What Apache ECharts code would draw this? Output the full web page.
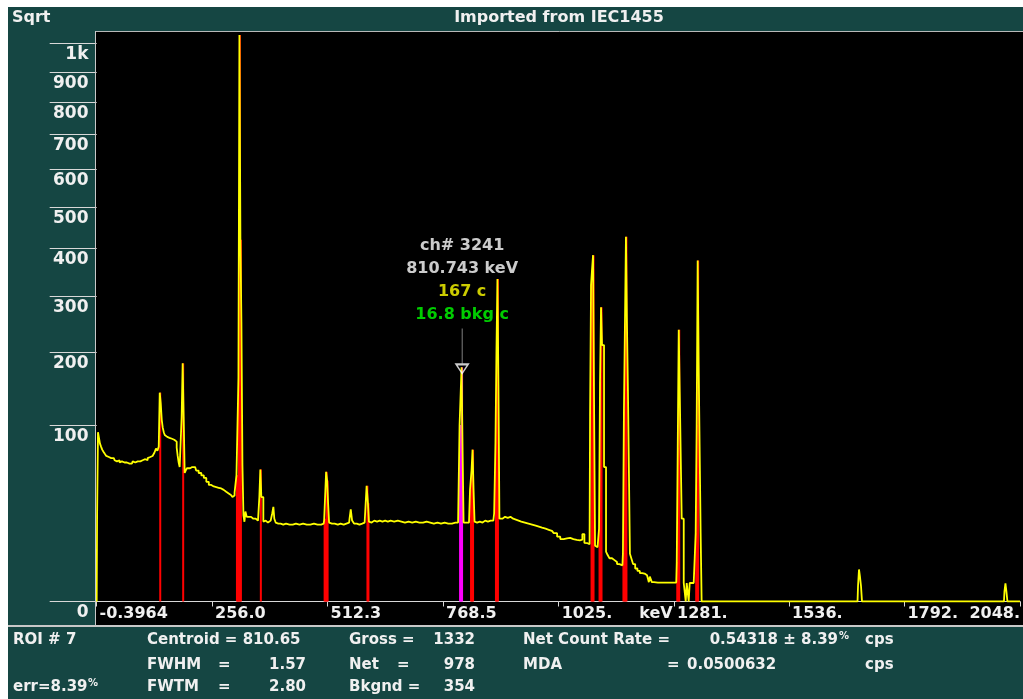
<!DOCTYPE html>
<html><head><meta charset="utf-8">
<script src="https://cdn.jsdelivr.net/npm/echarts@6/dist/echarts.min.js"></script>
<style>html,body{margin:0;padding:0;background:#fff;}#c{position:absolute;left:8px;top:7px;width:1015px;height:692px;}</style>
</head><body><div id="c"></div><script>
// ---- data (keV, counts) ----
const spectrumLow = [[0,0],[1.8,23],[4.0,92],[6.2,86],[8.4,80],[11.0,77],[13.5,74],[16.5,72],[19.5,70],[23.0,68],[27.0,67],[30.5,66],[34.0,65],[38.0,66],[41.6,64],[45.0,63],[49.0,64],[52.6,62],[56.0,63],[60.0,62],[63.7,61],[67.0,62],[71.0,61],[74.7,62],[78.0,61],[82.0,63],[85.8,62],[89.0,63],[93.0,62],[96.8,63],[100.0,64],[104.0,63],[107.9,65],[111.0,64],[115.0,66],[118.9,67],[122.0,68],[126.0,69],[130.0,71],[133.0,75],[136.6,73],[138.8,77],[141.0,140],[143.2,126],[145.5,106],[147.7,97],[150.0,92],[152.1,89],[156.5,87],[160.0,87],[163.1,86],[167.0,85],[170.0,84],[174.2,84],[176.4,82],[178.6,76],[180.8,68],[183.0,62],[185.2,58],[187.4,58],[189.6,109],[191.9,182],[194.1,109],[196.3,53],[198.5,55],[202.0,57],[207.3,57],[212.0,58],[218.4,58],[223.0,55],[229.4,53],[235.0,51],[240.5,49],[246.0,46],[251.5,43.6],[257.0,42.5],[262.6,42],[268.0,41.5],[273.6,41],[279.0,40],[284.7,38.7],[290.0,37.5],[295.7,36.4],[300.0,35.5],[302.4,35],[305.0,36],[306.8,38],[309.0,39],[311.2,51],[313.4,51],[315.6,160],[317.8,1030],[320.0,420],[322.2,250],[324.5,60],[326.7,24],[328.9,20.4],[331.0,26],[335.0,23],[340.0,23],[345.0,22],[350.0,22],[356.0,21],[359.8,21],[362.0,35],[364.2,56],[366.4,35],[368.6,35],[370.9,20.5],[375.0,21],[380.0,20],[384.0,21],[388.0,22],[391.0,25],[393.0,28.7],[395.2,22],[399.0,20],[403.0,19.5],[408.0,19.5],[414.0,19],[420.0,19.5],[428.0,19],[435.0,19],[442.0,19.5],[450.0,19],[458.0,19.5],[466.0,19],[474.0,19],[482.0,19.5],[490.0,19],[498.0,19],[503.5,19.5],[505.7,21],[507.9,22],[510.1,54],[512.3,47],[514.5,31],[516.7,20],[522.0,19.5],[528.0,19.5],[535.0,19],[541.0,19.5],[548.0,19],[554.0,19.5],[560.0,20],[562.0,22],[565.3,27.3],[568.0,21],[574.0,19.5],[580.0,19],[586.0,19.5],[592.0,20],[597.0,20],[600.7,43],[602.9,31],[605.1,20.5],[610.0,20],[616.0,21],[622.0,20.5],[628.0,21],[634.0,20.5],[640.0,21]];
const spectrumMid = [[646,20.5],[652,21],[660,20.5],[668,21],[676,20.5],[684,20],[692,20.5],[700,20],[708,20.5],[716,20],[724,20],[732,20.5],[740,20],[748,19.5],[756,20],[764,19.5],[772,20],[780,19.5],[788,19.5],[796,20],[801.8,20],[804.0,20],[806.2,100],[808.4,100],[810.6,176],[812.9,73],[815.1,20],[820,20],[826,20],[830.5,40],[832.7,55],[835.0,74],[837.2,40],[839.4,20.5],[844,20],[850,20.5],[856,20],[862,21],[868,20.5],[874,21],[880,21],[883.6,25],[885.8,80],[888.0,200],[890.2,334],[892.4,150],[894.6,22],[900,22],[906,23],[912,22.5],[918,23],[924,22],[930,21.5],[936,21],[942,20.5],[950,20],[958,19.5],[966,19],[974,18.5],[981,18],[988,17.5],[996,17],[1003,16.5],[1010,16],[1018,15],[1025,13.5],[1032,12.5],[1040,12.8],[1047,13],[1054,12.5],[1061,12.2],[1069,12],[1075,12.3],[1080,14.6],[1084,11],[1087,10.9],[1091,10.5],[1093.5,10.5]];
const spectrumHigh = [[1095.7,111],[1097.9,322],[1100.1,354],[1102.3,385],[1104.5,130],[1106.8,10],[1109.0,9.5],[1113.4,9],[1115.6,17],[1117.8,155],[1120.0,278],[1122.2,211],[1124.4,211],[1126.7,58],[1128.9,58],[1131.1,8],[1135.5,7],[1139.9,6],[1146.6,5.5],[1151.0,5],[1157.6,4.5],[1162.0,4.3],[1166.4,4.2],[1168.6,7.5],[1170.9,118],[1173.1,248],[1175.3,427],[1177.5,248],[1179.7,143],[1181.9,143],[1184.1,7.3],[1188,6],[1192,4.5],[1197.4,3.5],[1202,3],[1208,2.6],[1212.9,2.5],[1218,2.2],[1223.9,2],[1226.1,1.2],[1228.3,2],[1230.5,2],[1232.7,1.2],[1240,1.15],[1250,1.15],[1260,1.15],[1270,1.15],[1280,1.15],[1285.8,1.15],[1288.0,5],[1290.2,76],[1292.4,237],[1294.6,141],[1296.8,141],[1299.0,22],[1301.3,22],[1303.5,1.1],[1305.7,1.1],[1307.9,0],[1310.1,1.1],[1312.3,1.1],[1314.5,0],[1316.7,1.1],[1318.9,1.1],[1321.2,1.1],[1323.4,1.1],[1325.6,1.1],[1327.8,6],[1330.0,15],[1332.2,100],[1334.4,373],[1336.6,180],[1338.8,180],[1341.0,15],[1343.2,0],[1688,0],[1690.1,0.77],[1692.3,3.3],[1694.5,1.97],[1696.8,0.77],[1699,0],[2012.8,0],[2015.0,0.31],[2017.2,1.07],[2019.4,0.31],[2021.6,0],[2048.4,0]];
// ROI ranges (keV)
const roiRanges = [[139.9,142],[190,193],[310,321],[363,365.5],[505,513],[599.5,603.5],[805,811.5],[830,836],[885,891],[1097,1103],[1115,1121],[1168,1176],[1287,1293],[1329,1335]];
const selectedRoi = 6; // ROI # 7
// axis ticks
const xTickValues = [-0.3964,256.0,512.3,768.5,1025,1281,1536,1792,2048.4];
const xTickLabels = ['-0.3964','256.0','512.3','768.5','1025.','1281.','1536.','1792.','2048.'];
const yTickValues = [0,100,200,300,400,500,600,700,800,900,1000];
const yTickLabels = ['0','100','200','300','400','500','600','700','800','900','1k'];
const yMaxCounts = 1041;
// cursor
const cursorCh = 3241, cursorKeV = 810.743, cursorCounts = 167, cursorBkg = 16.8;
// ROI info panel
const infoRows = [
  ['ROI # 7','Centroid = 810.65','Gross =','1332','Net Count Rate =','0.54318 ± 8.39','cps'],
  ['','FWHM','1.57','Net','978','MDA','0.0500632','cps'],
  ['err=8.39','FWTM','2.80','Bkgnd =','354']
];

const spectrum = spectrumLow.concat(spectrumMid, spectrumHigh);
const lineData = spectrum.map(p => [p[0], Math.sqrt(p[1])]);
const roiData = [];
spectrum.forEach(p => {
  const idx = roiRanges.findIndex(r => p[0] >= r[0] && p[0] <= r[1]);
  if (idx >= 0) roiData.push({value:[p[0], Math.sqrt(p[1])], itemStyle:{color: idx === selectedRoi ? '#ff00ff' : '#ff0000'}});
});

const TEAL = '#154643', FG = '#f0f0f0', FONT = 'DejaVu Sans';
const chart = echarts.init(document.getElementById('c'), null, {renderer:'canvas'});

function txt(x, y, s, opt) {
  return Object.assign({type:'text', x:x, y:y, z:10, style:Object.assign({text:s, fill:FG, font:'bold 15px ' + FONT, textVerticalAlign:'middle', textAlign:'left'}, opt||{})});
}
const R1 = 633, R2 = 658, R3 = 680;
const graphics = [
  {type:'rect', z:-1, shape:{x:88, y:24, width:927, height:594}, style:{fill:'#000'}},
  {type:'line', z:5, shape:{x1:87.5, y1:24.5, x2:1015, y2:24.5}, style:{stroke:'#b8b8b8', lineWidth:1}},
  {type:'line', z:5, shape:{x1:87.5, y1:24, x2:87.5, y2:618}, style:{stroke:'#c8c8c8', lineWidth:1}},
  {type:'line', z:5, shape:{x1:0, y1:619, x2:1015, y2:619}, style:{stroke:'#c8c8c8', lineWidth:2}},
  txt(5, R1, infoRows[0][0]),
  txt(139, R1, infoRows[0][1]),
  txt(341, R1, infoRows[0][2]),
  txt(467, R1, infoRows[0][3], {textAlign:'right'}),
  txt(515, R1, infoRows[0][4]),
  txt(830, R1, infoRows[0][5], {textAlign:'right'}),
  txt(831, R1 - 4, '%', {font:'bold 10px ' + FONT}),
  txt(857, R1, infoRows[0][6]),
  txt(139, R2, infoRows[1][1]),
  txt(210, R2, '='),
  txt(298, R2, infoRows[1][2], {textAlign:'right'}),
  txt(341, R2, infoRows[1][3]),
  txt(389, R2, '='),
  txt(467, R2, infoRows[1][4], {textAlign:'right'}),
  txt(515, R2, infoRows[1][5]),
  txt(659, R2, '='),
  txt(679, R2, infoRows[1][6]),
  txt(857, R2, infoRows[1][7]),
  txt(5, R3, infoRows[2][0]),
  txt(80, R3 - 4, '%', {font:'bold 10px ' + FONT}),
  txt(139, R3, infoRows[2][1]),
  txt(210, R3, '='),
  txt(298, R3, infoRows[2][2], {textAlign:'right'}),
  txt(341, R3, infoRows[2][3]),
  txt(467, R3, infoRows[2][4], {textAlign:'right'})
];

chart.setOption({
  animation:false,
  backgroundColor: TEAL,
  title:[
    {text:'Sqrt', left:4, top:3, padding:0, textStyle:{color:FG, fontFamily:FONT, fontWeight:'bold', fontSize:16}},
    {text:'Imported from IEC1455', left:551, top:3, padding:0, textAlign:'center', textStyle:{color:FG, fontFamily:FONT, fontWeight:'bold', fontSize:16}}
  ],
  grid:{left:88.5, top:25, right:0, bottom:97.5, containLabel:false},
  xAxis:{
    type:'value', min:-0.3964, max:2048.4,
    splitLine:{show:false},
    axisLine:{show:true, onZero:false, lineStyle:{color:'#d8d8d8', width:1}},
    axisTick:{show:true, length:5, inside:false, customValues:xTickValues, lineStyle:{color:'#d8d8d8'}},
    axisLabel:{customValues:xTickValues, align:'left', margin:4, padding:[0,0,0,3], verticalAlign:'top',
      color:FG, fontFamily:FONT, fontWeight:'bold', fontSize:16, showMaxLabel:true, alignMaxLabel:'right',
      formatter:function(v){ const i = xTickValues.findIndex(t => Math.abs(t - v) < 0.01); const s = i>=0 ? xTickLabels[i] : ''; return s === '1025.' ? s + '{k|keV}' : s; },
      rich:{k:{color:FG, fontFamily:FONT, fontWeight:'bold', fontSize:16, padding:[0,0,0,27]}}}
  },
  yAxis:{
    type:'value', min:0, max:Math.sqrt(yMaxCounts),
    splitLine:{show:false},
    axisLine:{show:false},
    axisTick:{show:true, length:47, inside:false, customValues:yTickValues.map(Math.sqrt), lineStyle:{color:'#d8d8d8', width:1}},
    axisLabel:{customValues:yTickValues.map(Math.sqrt), margin:8, verticalAlign:'top', padding:[3,0,0,0],
      color:FG, fontFamily:FONT, fontWeight:'bold', fontSize:17,
      formatter:function(v){ const c = Math.round(v*v); const i = yTickValues.indexOf(c); return i>=0 ? yTickLabels[i] : ''; }}
  },
  series:[
    {type:'bar', data:roiData, barWidth:2, z:2, silent:true},
    {type:'line', data:lineData, step:'middle', showSymbol:false, z:3, silent:true,
      lineStyle:{color:'#ffff00', width:1.8}},
    {type:'scatter', z:4, silent:true,
      data:[[cursorKeV, Math.sqrt(cursorCounts)]],
      symbol:'path://M6,0 L6,36 M0,36 L12,36 L6,45 Z', symbolSize:[12,45], symbolOffset:[0,-22.5],
      itemStyle:{color:'rgba(0,0,0,0)', borderColor:'#ffffff', borderWidth:1.2},
      label:{show:true, position:'top', distance:1, align:'center',
        formatter:function(){ return '{w|ch# ' + cursorCh + '}\n{w|' + cursorKeV.toFixed(3) + ' keV}\n{y|' + cursorCounts + ' c}\n{g|' + cursorBkg.toFixed(1) + ' bkg c}'; },
        rich:{
          w:{color:'#ffffff', fontFamily:FONT, fontWeight:'bold', fontSize:16, lineHeight:23},
          y:{color:'#ffff00', fontFamily:FONT, fontWeight:'bold', fontSize:16, lineHeight:23},
          g:{color:'#00ff00', fontFamily:FONT, fontWeight:'bold', fontSize:16, lineHeight:23}
        }}}
  ],
  graphic:graphics
});
</script></body></html>
